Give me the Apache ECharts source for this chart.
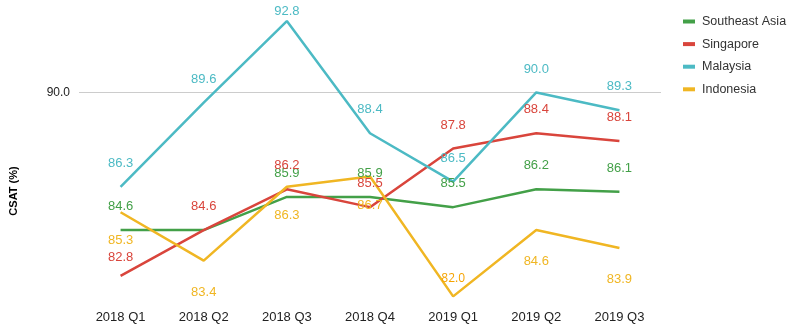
<!DOCTYPE html>
<html>
<head>
<meta charset="utf-8">
<script src="https://cdn.jsdelivr.net/npm/echarts@6/dist/echarts.min.js"></script>
<style>
  html, body { margin: 0; padding: 0; background: #fff; }
  #chart { width: 789px; height: 324px; }
</style>
</head>
<body>
<div id="chart"></div>
<script>
// Quarterly CSAT scores by market
const quarters = ['2018 Q1', '2018 Q2', '2018 Q3', '2018 Q4', '2019 Q1', '2019 Q2', '2019 Q3'];
const southeastAsia = [84.6, 84.6, 85.9, 85.9, 85.5, 86.2, 86.1];
const singapore = [82.8, 84.6, 86.2, 85.5, 87.8, 88.4, 88.1];
const malaysia = [86.3, 89.6, 92.8, 88.4, 86.5, 90.0, 89.3];
const indonesia = [85.3, 83.4, 86.3, 86.7, 82.0, 84.6, 83.9];
const yTicks = [90];

const colors = {
  sea: '#43a048',
  sg: '#d9453c',
  my: '#4cbac4',
  id: '#f0b623'
};

const FONT = 'Liberation Sans, Arial, sans-serif';

function labelCfg(color, position, distance) {
  return {
    show: true,
    position: position,
    distance: distance,
    color: color,
    fontSize: 13,
    fontFamily: FONT,
    formatter: p => p.value.toFixed(1)
  };
}

function lineSeries(name, data, color, label, perPoint) {
  return {
    name: name,
    type: 'line',
    data: data.map((v, i) => perPoint && perPoint[i] ? { value: v, label: perPoint[i] } : v),
    showSymbol: true,
    symbol: 'circle',
    symbolSize: 0,
    lineStyle: { color: color, width: 2.5 },
    itemStyle: { color: color },
    label: label,
    emphasis: { disabled: true },
    animation: false
  };
}

const chart = echarts.init(document.getElementById('chart'), null, { renderer: 'canvas' });

chart.setOption({
  animation: false,
  grid: { left: 77, right: 128, top: 16, bottom: 19 },
  legend: {
    orient: 'vertical',
    left: 678,
    top: 10,
    icon: 'rect',
    itemWidth: 12,
    itemHeight: 4,
    itemGap: 9.6,
    textStyle: { color: '#333', fontSize: 12.5, fontFamily: FONT, padding: [0, 0, 0, 2] },
    data: ['Southeast Asia', 'Singapore', 'Malaysia', 'Indonesia']
  },
  xAxis: {
    type: 'category',
    data: quarters,
    boundaryGap: true,
    axisLine: { show: false },
    axisTick: { show: false },
    splitLine: { show: false },
    axisLabel: { color: '#222', fontSize: 13, fontFamily: FONT, margin: 7 }
  },
  yAxis: {
    type: 'value',
    min: 81.7,
    max: 93,
    name: 'CSAT (%)',
    nameLocation: 'middle',
    nameRotate: 90,
    nameGap: 60,
    nameTextStyle: { color: '#000', fontSize: 11, fontWeight: 'bold', fontFamily: FONT, padding: [0, 62, 0, 0] },
    axisLine: { show: false },
    axisTick: { show: false, customValues: yTicks },
    axisLabel: {
      customValues: yTicks,
      color: '#222',
      fontSize: 12,
      fontFamily: FONT,
      margin: 9,
      formatter: v => v.toFixed(1)
    },
    splitLine: { show: true, lineStyle: { color: '#cccccc', width: 1 } }
  },
  series: [
    lineSeries('Southeast Asia', southeastAsia, colors.sea, labelCfg(colors.sea, 'top', 17),
      [null, { show: false }]),
    lineSeries('Singapore', singapore, colors.sg, labelCfg(colors.sg, 'top', 17),
      [{ distance: 12 }]),
    lineSeries('Malaysia', malaysia, colors.my, labelCfg(colors.my, 'top', 17),
      [null, null, { distance: 3 }]),
    lineSeries('Indonesia', indonesia, colors.id, labelCfg(colors.id, 'bottom', 25),
      [{ distance: 22 }, null, { distance: 22 }, { distance: 22 }, { position: 'top', distance: 12, color: '#f5a300', fontFamily: 'Open Sans, sans-serif', fontSize: 12 }])
  ]
});
</script>
</body>
</html>
